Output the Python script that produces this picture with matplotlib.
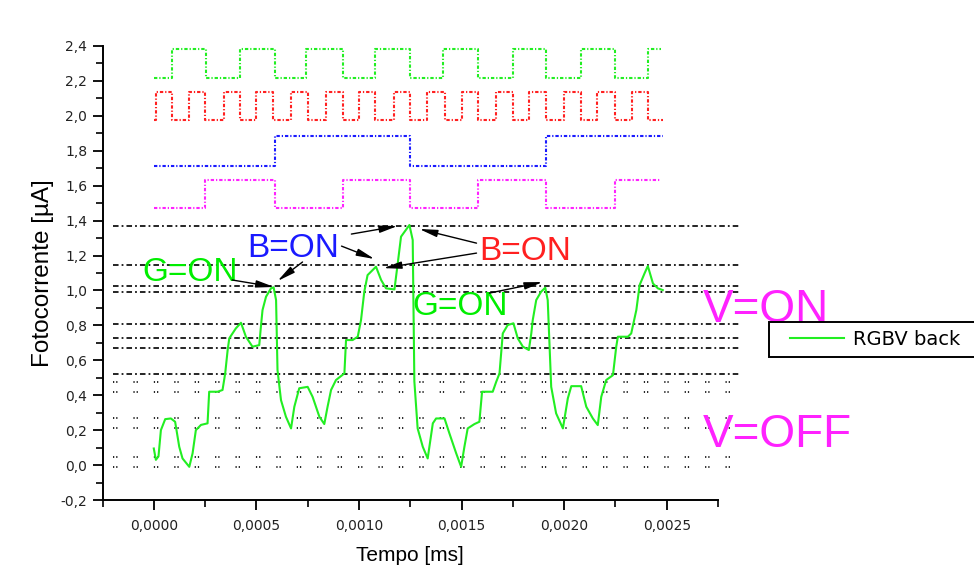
import matplotlib
matplotlib.use("Agg")
import matplotlib.pyplot as plt
from matplotlib.ticker import MultipleLocator, FuncFormatter
from matplotlib.legend_handler import HandlerLine2D

plt.rcParams['lines.scale_dashes'] = False

# ---------------- data ----------------
# photocurrent curve "RGBV back"
t_curve = [0.0, 0.0000102, 0.0000229, 0.0000346, 0.0000556, 0.0000834, 0.000104, 0.000124, 0.00014,
           0.000173, 0.000189, 0.000205, 0.00023, 0.000262, 0.00027, 0.000311, 0.000335, 0.000348,
           0.00036, 0.000368, 0.0004, 0.000425, 0.000449, 0.000481, 0.000514, 0.000522, 0.00053,
           0.000547, 0.000571, 0.000584, 0.000596, 0.000603, 0.00062, 0.000644, 0.000669, 0.000685,
           0.000709, 0.00075, 0.000774, 0.000807, 0.000831, 0.000847, 0.000864, 0.000888, 0.000929,
           0.000937, 0.000969, 0.000994, 0.00101, 0.001026, 0.001042, 0.001083, 0.001108, 0.001132,
           0.001173, 0.001189, 0.001205, 0.001246, 0.001262, 0.00127, 0.001286, 0.001311, 0.001335,
           0.00136, 0.001376, 0.001417, 0.001441, 0.001474, 0.001498, 0.001514, 0.00153, 0.001563,
           0.001587, 0.0016, 0.001652, 0.001669, 0.001685, 0.001701, 0.001725, 0.001753, 0.001774,
           0.001799, 0.001828, 0.00184, 0.001847, 0.001864, 0.001888, 0.001908, 0.00192, 0.001937,
           0.001961, 0.001994, 0.002018, 0.002035, 0.002083, 0.002108, 0.00214, 0.002164, 0.002181,
           0.002205, 0.002238, 0.002254, 0.002262, 0.002311, 0.002327, 0.002352, 0.002368, 0.002392,
           0.002408, 0.002433, 0.002457, 0.002481]
v_curve = [0.095, 0.03, 0.05, 0.2, 0.263, 0.267, 0.248, 0.105, 0.038,
           -0.01, 0.067, 0.2, 0.23, 0.239, 0.42, 0.42, 0.43, 0.525,
           0.659, 0.726, 0.783, 0.815, 0.735, 0.678, 0.687, 0.792, 0.888,
           0.964, 1.012, 1.018, 0.945, 0.544, 0.372, 0.277, 0.21, 0.334,
           0.44, 0.448, 0.391, 0.277, 0.235, 0.334, 0.43, 0.487, 0.525,
           0.716, 0.716, 0.735, 0.83, 0.993, 1.088, 1.136, 1.06, 1.012,
           1.006, 1.155, 1.308, 1.375, 1.289, 0.48, 0.21, 0.105, 0.038,
           0.239, 0.267, 0.267, 0.181, 0.067, -0.01, 0.105, 0.21, 0.235,
           0.248, 0.42, 0.42, 0.477, 0.525, 0.754, 0.802, 0.812, 0.726,
           0.678, 0.659, 0.754, 0.83, 0.945, 0.993, 1.016, 0.945, 0.448,
           0.296, 0.21, 0.382, 0.452, 0.452, 0.334, 0.267, 0.229, 0.391,
           0.487, 0.515, 0.678, 0.735, 0.735, 0.754, 0.888, 1.031, 1.098,
           1.14, 1.04, 1.012, 1.002]

# LED driving signals (step traces)
t_green_sig = [0.0, 0.00009, 0.000256, 0.00042, 0.00059, 0.00074, 0.00092, 0.00108, 0.00125,
               0.00141, 0.00158, 0.00175, 0.00191, 0.00208, 0.00225, 0.00241, 0.00247]
v_green_sig = [2.215, 2.385, 2.215, 2.385, 2.215, 2.385, 2.215, 2.385, 2.215,
               2.385, 2.215, 2.385, 2.215, 2.385, 2.215, 2.385, 2.385]

t_red_sig = [0.0, 0.00001, 0.00009, 0.00017, 0.00025, 0.00034, 0.00042, 0.0005, 0.00058,
             0.00067, 0.00075, 0.00084, 0.00092, 0.001, 0.00108, 0.00117, 0.00125, 0.00133,
             0.00142, 0.0015, 0.00158, 0.00167, 0.00175, 0.00183, 0.00191, 0.002, 0.00208,
             0.00216, 0.00225, 0.00233, 0.00241, 0.00248]
v_red_sig = [1.978, 2.137, 1.978, 2.137, 1.978, 2.137, 1.978, 2.137, 1.978,
             2.137, 1.978, 2.137, 1.978, 2.137, 1.978, 2.137, 1.978, 2.137,
             1.978, 2.137, 1.978, 2.137, 1.978, 2.137, 1.978, 2.137, 1.978,
             2.137, 1.978, 2.137, 1.978, 1.978]

t_blue_sig = [0.0, 0.00059, 0.00125, 0.00191, 0.00248]
v_blue_sig = [1.715, 1.882, 1.715, 1.882, 1.882]

t_mag_sig = [0.0, 0.00025, 0.00059, 0.00092, 0.00125, 0.00158, 0.00191, 0.00225, 0.00247]
v_mag_sig = [1.475, 1.632, 1.475, 1.632, 1.475, 1.632, 1.475, 1.632, 1.632]

# horizontal reference levels
ref_dashdot_levels = [1.371, 1.145, 1.025, 0.993, 0.808, 0.729, 0.668, 0.521]
ref_dotted_levels = [0.477, 0.416, 0.267, 0.21, 0.048, -0.01]
ref_t_span = [-0.0002, 0.00285]

# annotations: (text, colour, x, baseline y)
labels_txt = ["G=ON", "B=ON", "B=ON", "G=ON"]
labels_col = ["#00ee00", "#1a1aff", "#ff2020", "#00ee00"]
labels_x = [-0.000057, 0.000457, 0.001587, 0.00126]
labels_y = [1.054, 1.191, 1.174, 0.859]

# arrows: start -> end
arrow_start_x = [0.000382, 0.000725, 0.000915, 0.000963, 0.001573, 0.001573, 0.001636]
arrow_start_y = [1.06, 1.163, 1.254, 1.323, 1.271, 1.214, 0.985]
arrow_end_x = [0.000587, 0.000603, 0.001076, 0.001188, 0.001294, 0.001119, 0.001895]
arrow_end_y = [1.02, 1.054, 1.18, 1.369, 1.352, 1.128, 1.048]

v_labels = ["V=ON", "V=OFF"]
v_labels_x = [0.002675, 0.002675]
v_labels_y = [0.821, 0.105]

# ---------------- figure ----------------
fig = plt.figure(figsize=(9.74, 5.69), dpi=100)
ax = fig.add_axes([102.5 / 974, 69 / 569, 615.5 / 974, 454 / 569])

sans = ['Liberation Sans', 'DejaVu Sans']

# reference lines
for lv in ref_dashdot_levels:
    ax.plot(ref_t_span, [lv, lv], color='black', lw=1.2,
            linestyle=(0, (4.0, 2.2, 1.3, 2.2)), clip_on=False, zorder=1)
for lv in ref_dotted_levels:
    ax.plot(ref_t_span, [lv, lv], color='black', lw=1.2,
            linestyle=(0, (0.9, 1.4, 0.9, 11.5)), clip_on=False, zorder=1)

# signal traces
sig_ls = (0, (2.4, 1.4, 0.9, 1.4))
ax.plot(t_green_sig, v_green_sig, drawstyle='steps-post', color='#22ee22', lw=1.5, linestyle=sig_ls)
ax.plot(t_red_sig, v_red_sig, drawstyle='steps-post', color='#ff2020', lw=1.5, linestyle=sig_ls)
ax.plot(t_blue_sig, v_blue_sig, drawstyle='steps-post', color='#1a1aff', lw=1.5, linestyle=sig_ls)
ax.plot(t_mag_sig, v_mag_sig, drawstyle='steps-post', color='#ff22ff', lw=1.5, linestyle=sig_ls)

# main curve
curve, = ax.plot(t_curve, v_curve, color='#22ee22', lw=1.5, label='RGBV back', zorder=3)

# annotations
for txt, col, x, y in zip(labels_txt, labels_col, labels_x, labels_y):
    ax.text(x, y, txt, color=col, fontsize=24, family=sans, ha='left', va='baseline', zorder=4)
for x0, y0, x1, y1 in zip(arrow_start_x, arrow_start_y, arrow_end_x, arrow_end_y):
    ax.annotate('', xy=(x1, y1), xytext=(x0, y0),
                arrowprops=dict(arrowstyle='-|>,head_length=0.9,head_width=0.18',
                                color='black', lw=1.0, shrinkA=0, shrinkB=0,
                                mutation_scale=12), zorder=4)
for txt, x, y in zip(v_labels, v_labels_x, v_labels_y):
    ax.text(x, y, txt, color='#ff22ff', fontsize=33, family=sans, ha='left',
            va='baseline', clip_on=False, zorder=4)

# axes styling
ax.set_xlim(-0.00025, 0.00275)
ax.set_ylim(-0.2, 2.4)
for s in ['top', 'right']:
    ax.spines[s].set_visible(False)
for s in ['left', 'bottom']:
    ax.spines[s].set_linewidth(1.4)

ax.xaxis.set_major_locator(MultipleLocator(0.0005))
ax.xaxis.set_minor_locator(MultipleLocator(0.00025))
ax.yaxis.set_major_locator(MultipleLocator(0.2))
ax.yaxis.set_minor_locator(MultipleLocator(0.1))


def fx(v, pos):
    s = f"{v:.4f}"
    if s == "-0.0000":
        s = "0.0000"
    return s.replace('.', ',')


def fy(v, pos):
    s = f"{v:.1f}"
    if s == "-0.0":
        s = "0.0"
    return s.replace('.', ',')


ax.xaxis.set_major_formatter(FuncFormatter(fx))
ax.yaxis.set_major_formatter(FuncFormatter(fy))
ax.tick_params(which='major', direction='out', length=7, width=1.3, labelsize=10, pad=7)
ax.tick_params(which='minor', direction='out', length=5, width=1.2)
ax.tick_params(axis='y', which='major', pad=4)
for lab in ax.get_xticklabels() + ax.get_yticklabels():
    lab.set_family('DejaVu Sans')
    lab.set_color('#222222')

ax.set_xlabel('Tempo [ms]', fontsize=15, family=sans, labelpad=9)
ax.set_ylabel('Fotocorrente [µA]', fontsize=17.5, family=sans, labelpad=5)

leg = ax.legend(handles=[curve], loc='upper left',
                bbox_to_anchor=(769 / 974, (569 - 357) / 569, 240 / 974, 35 / 569),
                bbox_transform=fig.transFigure, mode='expand', borderaxespad=0,
                frameon=True, fancybox=False, framealpha=1, edgecolor='black',
                handlelength=3.45, borderpad=0.42, handletextpad=0.46,
                handler_map={curve: HandlerLine2D(xpad=0.67)},
                prop={'family': 'DejaVu Sans', 'size': 14})
leg.get_frame().set_linewidth(1.4)

fig.savefig('out.png', dpi=100)
